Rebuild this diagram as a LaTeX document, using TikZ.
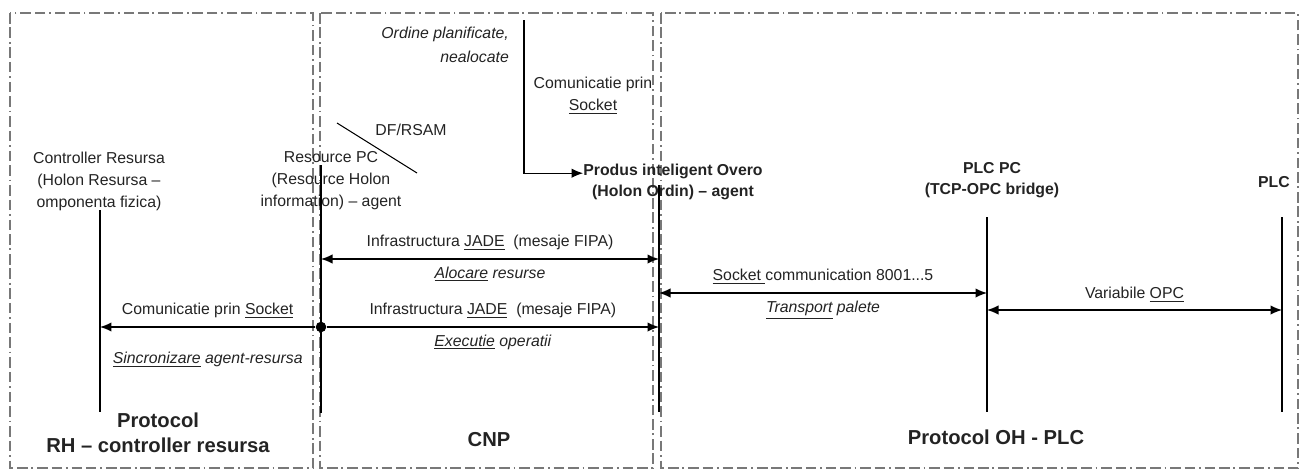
\documentclass[tikz,border=0pt]{standalone}
\usepackage{fontspec}
\setmainfont{Liberation Sans}
\usepackage{xcolor}
\usepackage{tikz}
\usetikzlibrary{arrows.meta,positioning}
\definecolor{Zone}{RGB}{120,120,120}
\definecolor{Ink}{RGB}{35,35,35}
\tikzset{
  zone/.style={draw=Zone,line width=1pt,dash pattern=on 6pt off 2.2pt on 6pt off 2.2pt on 1pt off 2.2pt},
  actor/.style={inner sep=0pt,align=center,text=Ink,font=\fontsize{9}{12.5}\selectfont},
  actorbold/.style={actor,font=\fontsize{9}{12}\selectfont\bfseries},
  protolabel/.style={inner sep=0pt,align=center,text=Ink,font=\fontsize{11.5}{14}\selectfont\bfseries},
  note/.style={inner sep=1pt,align=center,text=Ink,font=\fontsize{9}{12.5}\selectfont},
  lifeline/.style={line width=0.6pt,draw=black},
  msg/.style={line width=0.8pt,draw=black,{Latex[length=2.3mm,width=1.9mm]}-{Latex[length=2.3mm,width=1.9mm]}},
  sendmsg/.style={line width=0.8pt,draw=black,-{Latex[length=2.3mm,width=1.9mm]}},
  junction/.style={circle,fill=black,inner sep=0pt,minimum size=6pt}
}

\begin{document}
\begin{tikzpicture}[x=0.02cm,y=-0.02cm]
\useasboundingbox (0,0) rectangle (1306,470);
\draw[zone] (10,13) rectangle (313,468);
\draw[zone] (320,13) rectangle (653,468);
\draw[zone] (661,13) rectangle (1298,468);

\node[actor] (ctrl) at (99,181) {Controller Resursa\\(Holon Resursa --\\omponenta fizica)};
\node[actor] (rpc) at (331,181) {Resource PC\\(Resource Holon\\information) -- agent};
\node[actorbold] (produs) at (673,182) {Produs inteligent Overo\\(Holon Ordin) -- agent};
\node[actorbold] (plcpc) at (992,180) {PLC PC\\(TCP-OPC bridge)};
\node[actorbold] (plc) at (1274,182) {PLC};

\node[note,anchor=east,align=right,font=\fontsize{9}{13.5}\selectfont\itshape] (ordine) at (511,45) {Ordine planificate,\\nealocate};
\node[note] (sockpath) at (593,96) {Comunicatie prin\\\underline{Socket}};
\node[note] (dfrsam) at (411,130) {DF/RSAM};
\draw[lifeline] (337,123) -- (417,173);

\node[protolabel] (rhproto) at (158,433) {Protocol\\RH -- controller resursa};
\node[protolabel] (cnp) at (489,440) {CNP};
\node[protolabel] (ohplc) at (996,437) {Protocol OH - PLC};

\coordinate (ctrl-top) at (100,210);  \coordinate (ctrl-bot) at (100,412);
\coordinate (rpc-top) at (321,165);   \coordinate (rpc-bot) at (321,413);
\coordinate (prd-top) at (659,185);   \coordinate (prd-bot) at (659,412);
\coordinate (plcpc-top) at (987,217); \coordinate (plcpc-bot) at (987,412);
\coordinate (plc-top) at (1282,217);  \coordinate (plc-bot) at (1282,412);
\foreach \who in {ctrl,rpc,prd,plcpc,plc}
  \draw[lifeline] (\who-top) -- (\who-bot);

\coordinate (row-alloc) at (0,259);
\coordinate (row-transp) at (0,293);
\coordinate (row-opc) at (0,310);
\coordinate (row-exec) at (0,327);

\coordinate (ordine-src) at (524,20);
\draw[sendmsg,line width=0.6pt] (ordine-src) |- ([yshift=5pt]produs.west);

\draw[msg] (rpc-bot |- row-alloc) --
  node[note,above=3.5pt] {Infrastructura \underline{JADE}~ (mesaje FIPA)}
  node[note,below=3pt] {\itshape\underline{Alocare} resurse} (prd-bot |- row-alloc);

\node[junction] (execdot) at (rpc-bot |- row-exec) {};
\draw[sendmsg] (execdot) --
  node[note,above=3.5pt] {Infrastructura \underline{JADE}~ (mesaje FIPA)}
  node[note,below=3pt] {\itshape\underline{Executie} operatii} (prd-bot |- row-exec);
\draw[sendmsg] (execdot) --
  node[note,above=3.5pt] {Comunicatie prin \underline{Socket}}
  node[note,below=13pt] {\itshape\underline{Sincronizare} agent-resursa} (ctrl-bot |- row-exec);

\draw[msg] (prd-bot |- row-transp) --
  node[note,above=3.5pt] {\underline{Socket\ }communication 8001...5}
  node[note,below=3pt] {\itshape\underline{Transport} palete} (plcpc-bot |- row-transp);
\draw[msg] (plcpc-bot |- row-opc) --
  node[note,above=3pt] {Variabile \underline{OPC}} (plc-bot |- row-opc);
\end{tikzpicture}
\end{document}
